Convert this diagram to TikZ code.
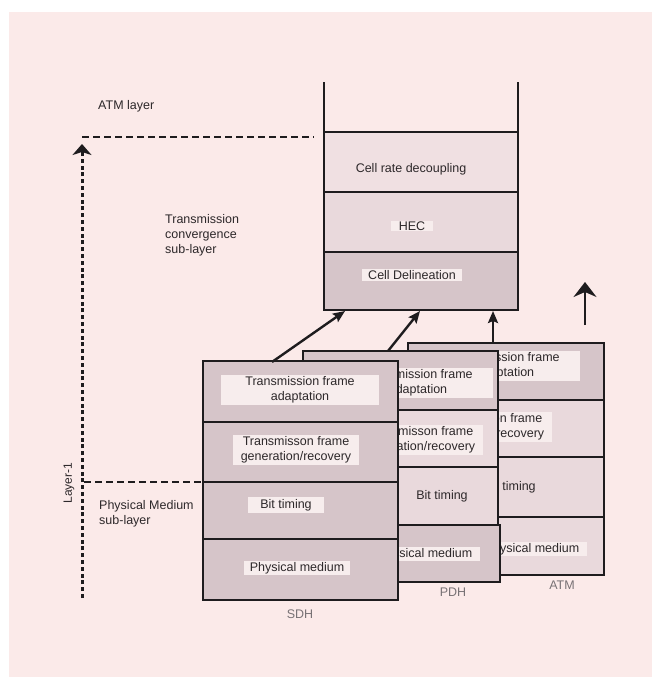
\documentclass[tikz,border=0pt]{standalone}
\usepackage{fontspec}
\setmainfont{Liberation Sans}
\usetikzlibrary{arrows.meta}
\definecolor{bg}{RGB}{251,234,233}
\definecolor{bandD}{RGB}{214,197,201}
\definecolor{bandL}{RGB}{233,217,220}
\definecolor{bandT}{RGB}{240,224,226}
\definecolor{boxc}{RGB}{247,237,237}
\definecolor{linec}{RGB}{30,28,30}
\definecolor{txt}{RGB}{45,40,42}
\definecolor{stkgrey}{RGB}{120,114,117}
\newcommand\mylbf{\fontsize{12.5}{15}\selectfont}
\begin{document}
\begin{tikzpicture}[x=1pt,y=-1pt,
  band/.style={draw=linec, line width=2.3pt, inner sep=0pt, outer sep=0pt},
  sdhband/.style={band, minimum width=195pt},
  lbl/.style={fill=boxc, text=txt, font=\mylbf, align=center, inner xsep=8pt, inner ysep=2pt},
  side/.style={text=txt, font=\mylbf, align=left, inner sep=0pt},
  stk/.style={text=stkgrey, font=\mylbf},
  stackline/.style={draw=linec, line width=2.3pt},
  dashline/.style={draw=linec, line width=2.6pt, dash pattern=on 7pt off 4pt},
  dotline/.style={draw=linec, line width=3pt, dash pattern=on 4pt off 2.8pt},
  conn/.style={draw=linec, line width=2.4pt, -{Stealth[length=12pt,width=10pt,inset=2pt]}},
  thinarrow/.style={draw=linec, line width=1.8pt, -{Stealth[length=15pt,width=23pt,inset=5pt]}}
]
\useasboundingbox (0,0) rectangle (652,677);
\fill[white] (0,0) rectangle (652,677);
\fill[bg] (9,12) rectangle (652,677);

% ---- ATM stack (back)
\node[band, fill=bandD, minimum width=196pt, minimum height=57pt] (a1) at (506,371.5) {};
\node[band, fill=bandL, minimum width=196pt, minimum height=57pt] (a2) at (506,428.5) {};
\node[band, fill=bandL, minimum width=196pt, minimum height=60pt] (a3) at (506,487) {};
\node[band, fill=bandL, minimum width=196pt, minimum height=58pt] (a4) at (506,546) {};
\node[lbl, inner xsep=20pt] (a1t) at (505,366) {Transmission frame\\adaptation};
\node[lbl] (a2t) at (489,427) {Transmisson frame\\generation/recovery};
\node[lbl, fill=bandL] (a3t) at (510,487) {Bit timing};
\node[lbl, inner ysep=1pt] (a4t) at (532,549) {Physical medium};
\node[stk] (atmL) at (562,585) {ATM};

% ---- PDH stack (middle)
\node[sdhband, fill=bandD, minimum height=59pt] (p1) at (400.5,380.5) {};
\node[sdhband, fill=bandL, minimum height=57pt] (p2) at (400.5,438.5) {};
\node[sdhband, fill=bandL, minimum height=58pt] (p3) at (400.5,496) {};
\node[sdhband, fill=bandD, minimum height=57pt] (p4) at (402.5,553.5) {};
\node[lbl, inner xsep=20pt] (p1t) at (418,383) {Transmission frame\\adaptation};
\node[lbl] (p2t) at (420,440) {Transmisson frame\\generation/recovery};
\node[lbl, fill=bandL] (p3t) at (442,496) {Bit timing};
\node[lbl, inner ysep=1pt] (p4t) at (425,554) {Physical medium};
\node[stk] (pdhL) at (453,592) {PDH};

% ---- SDH stack (front)
\node[sdhband, fill=bandD, minimum height=61pt] (s1) at (300.5,391.5) {};
\node[sdhband, fill=bandD, minimum height=60pt] (s2) at (300.5,452) {};
\node[sdhband, fill=bandD, minimum height=57pt] (s3) at (300.5,510.5) {};
\node[sdhband, fill=bandD, minimum height=61pt] (s4) at (300.5,569.5) {};
\node[lbl, inner xsep=24pt] (s1t) at (300,390) {Transmission frame\\adaptation};
\node[lbl] (s2t) at (296,450) {Transmisson frame\\generation/recovery};
\node[lbl, inner xsep=12pt] (s3t) at (286,505) {Bit timing};
\node[lbl, inner xsep=6pt, inner ysep=1pt] (s4t) at (297,568) {Physical medium};
\node[stk] (sdhL) at (300,614) {SDH};

% ---- Top (ATM layer) stack
\node[band, fill=bandT, minimum width=194pt, minimum height=60pt] (t1) at (421,162) {};
\node[band, fill=bandL, minimum width=194pt, minimum height=60pt] (t2) at (421,222) {};
\node[band, fill=bandD, minimum width=194pt, minimum height=58pt] (t3) at (421,281) {};
\node[lbl, fill=bandT] (t1t) at (411,169) {Cell rate decoupling};
\node[lbl, inner ysep=1pt] (t2t) at (412,226) {HEC};
\node[lbl, inner xsep=6pt, inner ysep=1pt] (t3t) at (412,275) {Cell Delineation};
\coordinate (topL) at (324,82);
\coordinate (topR) at (518,82);
\draw[stackline] (t1.north west) -- (topL);
\draw[stackline] (t1.north east) -- (topR);

% ---- connectors
\coordinate (c1a) at (272,362);
\coordinate (c1b) at (345,311);
\coordinate (c2a) at (388,351);
\coordinate (c2b) at (420,311);
\coordinate (c3a) at (493,343);
\coordinate (c3b) at (493,311);
\draw[conn] (c1a) -- (c1b);
\draw[conn] (c2a) -- (c2b);
\draw[conn] (c3a) -- (c3b);
\coordinate (upA) at (585,325);
\coordinate (upB) at (585,282);
\draw[thinarrow] (upA) -- (upB);

% ---- left side annotations
\node[side, anchor=west] (atmlayer) at (98,106) {ATM layer};
\node[side, anchor=west] (tcs) at (165,235) {Transmission\\convergence\\sub-layer};
\node[side, anchor=west] (pms) at (99,514) {Physical Medium\\sub-layer};
\node[text=txt, font=\fontsize{12}{14}\selectfont, rotate=90] (layer1) at (69,483) {Layer-1};

\coordinate (h1a) at (82,137);
\coordinate (h1b) at (314,137);
\draw[dashline] (h1a) -- (h1b);
\coordinate (h2a) at (84,482);
\coordinate (h2b) at (201,482);
\draw[dashline] (h2a) -- (h2b);
\coordinate (vA) at (82,598);
\coordinate (vB) at (82,144);
\draw[dotline, -{Stealth[length=11pt,width=19pt,inset=3pt]}] (vA) -- (vB);
\end{tikzpicture}
\end{document}
